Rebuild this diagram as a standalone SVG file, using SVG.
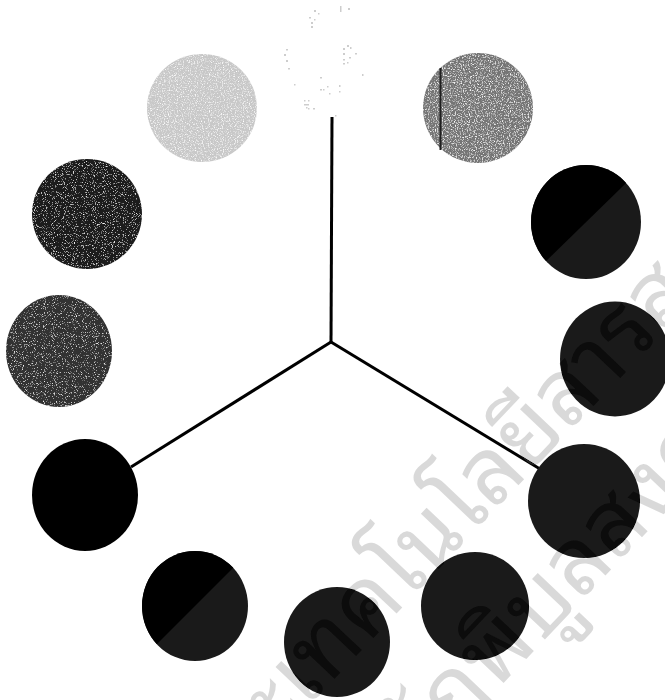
<svg xmlns="http://www.w3.org/2000/svg" width="665" height="700" viewBox="0 0 665 700">
<style>
.conn{stroke:#000;stroke-width:3;fill:none;stroke-linecap:butt}
.dk{fill:#1a1a1a}
.bk{fill:#000}
.sp{fill:#cdcdcd}
.wm{font-family:"Noto Sans Thai Looped","Noto Serif Thai","Garuda","Loma","Kinnari","Norasi","Waree","Noto Sans Thai",sans-serif;font-size:92px;fill:#262626;mix-blend-mode:difference}
</style>
<defs>
<filter id="grainL" x="0" y="0" width="100%" height="100%">
<feTurbulence type="fractalNoise" baseFrequency="0.85" numOctaves="2" seed="4" result="n"/>
<feColorMatrix in="n" type="matrix" values="0 0 0 0 1  0 0 0 0 1  0 0 0 0 1  3 0 0 0 -1.5" result="w"/>
<feComposite in="w" in2="SourceGraphic" operator="in" result="ws"/>
<feMerge><feMergeNode in="SourceGraphic"/><feMergeNode in="ws"/></feMerge>
</filter>
<filter id="grainD" x="0" y="0" width="100%" height="100%">
<feTurbulence type="fractalNoise" baseFrequency="0.9" numOctaves="2" seed="7" result="n"/>
<feColorMatrix in="n" type="matrix" values="0 0 0 0 1  0 0 0 0 1  0 0 0 0 1  3.5 0 0 0 -2.05" result="w"/>
<feComposite in="w" in2="SourceGraphic" operator="in" result="ws"/>
<feMerge><feMergeNode in="SourceGraphic"/><feMergeNode in="ws"/></feMerge>
</filter>
<clipPath id="clipA"><ellipse cx="586" cy="222" rx="55" ry="57"/></clipPath>
<clipPath id="clipB"><ellipse cx="195" cy="606" rx="53" ry="55"/></clipPath>
</defs>
<rect width="665" height="700" fill="#fff"/>
<g id="connectors">
<path class="conn" d="M332,117 L331,342"/>
<path class="conn" d="M331,342 L540,469"/>
<path class="conn" d="M331,342 L131,467"/>
</g>
<g id="c-top">
<g class="sp">
<rect x="314" y="10" width="2" height="2"/><rect x="318" y="13" width="1.5" height="1.5"/><rect x="309" y="17" width="2" height="1.5"/><rect x="314" y="19" width="1.5" height="1.5"/><rect x="311" y="22" width="2" height="2"/><rect x="311" y="26" width="2" height="2"/><rect x="340" y="6" width="1.5" height="6"/><rect x="348" y="8" width="2" height="2"/><rect x="286" y="49" width="2" height="1.5"/><rect x="284" y="54" width="2" height="2"/><rect x="286" y="60" width="2" height="2"/><rect x="288" y="68" width="2" height="1.5"/><rect x="347" y="45" width="2" height="2"/><rect x="350" y="47" width="1.5" height="2"/><rect x="343" y="48" width="2" height="2"/><rect x="343" y="53" width="2" height="2"/><rect x="355" y="53" width="2" height="1.5"/><rect x="349" y="57" width="2" height="1.5"/><rect x="343" y="59" width="2" height="1.5"/><rect x="347" y="62" width="1.5" height="1.5"/><rect x="343" y="63" width="2" height="1.5"/><rect x="362" y="74" width="1.5" height="2"/><rect x="320" y="77" width="2" height="1.5"/><rect x="294" y="84" width="1.5" height="1.5"/><rect x="320" y="89" width="2" height="1.5"/><rect x="323" y="89" width="1.5" height="1.5"/><rect x="327" y="86" width="1.5" height="1.5"/><rect x="339" y="85" width="1.5" height="2"/><rect x="339" y="91" width="1.5" height="1.5"/><rect x="329" y="93" width="1.5" height="1.5"/><rect x="304" y="100" width="1.5" height="1.5"/><rect x="308" y="100" width="1.5" height="1.5"/><rect x="304" y="104" width="5" height="1.5"/><rect x="306" y="107" width="1.5" height="1.5"/><rect x="308" y="108" width="1.5" height="1.5"/><rect x="313" y="108" width="2" height="1.5"/><rect x="335" y="115" width="1.5" height="1.5"/>
</g>
</g>
<g id="c-light"><ellipse cx="202" cy="108" rx="55" ry="54" fill="#c8c8c8" filter="url(#grainL)"/></g>
<g id="c-gray"><ellipse cx="478" cy="108" rx="55" ry="55" fill="#747474" filter="url(#grainL)"/><rect x="439.5" y="68" width="2" height="82" fill="#1e1e1e"/></g>
<g id="c-r1"><ellipse class="dk" cx="586" cy="222" rx="55" ry="57"/><polygon class="bk" points="500,306 500,150 660,150" clip-path="url(#clipA)"/></g>
<g id="c-r2"><ellipse class="dk" cx="615" cy="359" rx="55" ry="57.5"/></g>
<g id="c-r3"><ellipse class="dk" cx="584" cy="501" rx="56" ry="57"/></g>
<g id="c-b1"><ellipse class="dk" cx="475" cy="606" rx="54" ry="54"/></g>
<g id="c-b2"><ellipse class="dk" cx="337" cy="642" rx="53" ry="55"/></g>
<g id="c-b3"><ellipse class="dk" cx="195" cy="606" rx="53" ry="55"/><polygon class="bk" points="130,671 130,540 261,540" clip-path="url(#clipB)"/></g>
<g id="c-l1"><ellipse class="bk" cx="85" cy="495" rx="53" ry="56"/></g>
<g id="c-l2"><ellipse cx="59" cy="351" rx="53" ry="56" fill="#333333" filter="url(#grainD)"/></g>
<g id="c-l3"><ellipse cx="87" cy="214" rx="55" ry="55" fill="#1f1f1f" filter="url(#grainD)"/></g>
<g id="watermark">
<text class="wm" transform="translate(306,709) rotate(-46.5)"><tspan x="0" y="0" text-anchor="end">สำนักวิทยบริการและ</tspan><tspan x="0" y="0" text-anchor="start">เทคโนโลยีสารสนเทศ</tspan></text>
<text class="wm" transform="translate(495,692) rotate(-46.5)"><tspan x="0" y="0" text-anchor="end">มหาวิทยาลัยราชภัฏ</tspan><tspan x="0" y="0" text-anchor="start">พิบูลสงคราม</tspan></text>
</g>
</svg>
